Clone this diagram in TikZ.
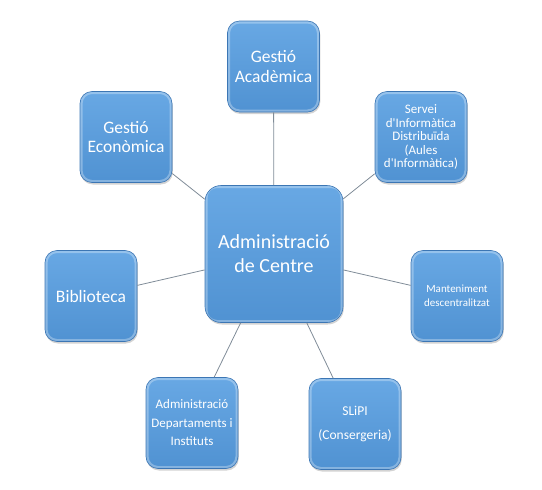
\documentclass[tikz,border=0pt]{standalone}
\usepackage{fontspec}
\setmainfont{Carlito}
\usetikzlibrary{shadows}

\definecolor{boxtop}{RGB}{104,168,228}
\definecolor{boxbottom}{RGB}{80,146,210}
\definecolor{boxedge}{RGB}{60,118,180}
\definecolor{spoke}{RGB}{128,140,152}

\begin{document}
\begin{tikzpicture}[x=1pt,y=-1pt,
    unit/.style={draw=boxedge, line width=0.6pt, top color=boxtop, bottom color=boxbottom,
        rounded corners=12pt, text=white, align=center, inner sep=2pt,
        minimum width=92pt, minimum height=91pt,
        path picture={\draw[white, opacity=0.3, line width=5pt, rounded corners=12pt]
            (path picture bounding box.south west) rectangle (path picture bounding box.north east);},
        drop shadow={shadow xshift=0.8pt, shadow yshift=-2pt, opacity=0.35}},
    hub/.style={unit, minimum width=138pt, minimum height=137pt, rounded corners=16pt},
    spokeline/.style={draw=spoke, line width=0.8pt}]
    \useasboundingbox (0,0) rectangle (542,490);

    \node[hub, font=\fontsize{20}{24}\selectfont] (centre) at (274,254) {Administració\\de Centre};

    \node[unit, font=\fontsize{17.5}{20}\selectfont] (academica) at (273.5,66.5) {Gestió\\Acadèmica};
    \node[unit, font=\fontsize{17.5}{19}\selectfont] (economica) at (126,137) {Gestió\\Econòmica};
    \node[unit, font=\fontsize{13}{13.5}\selectfont] (servei) at (421,137) {Servei\\d\textquotesingle Informàtica\\Distribuïda\\(Aules\\d\textquotesingle Informàtica)};
    \node[unit, font=\fontsize{17.5}{19}\selectfont] (biblioteca) at (91,296) {Biblioteca};
    \node[unit, font=\fontsize{11}{14}\selectfont] (manteniment) at (457,296) {Manteniment\\descentralitzat};
    \node[unit, font=\fontsize{13}{18.5}\selectfont] (departaments) at (192,423) {Administració\\Departaments i\\Instituts};
    \node[unit, font=\fontsize{13.5}{24}\selectfont] (slipi) at (355,424) {SLiPI\\(Consergeria)};

    \draw[spokeline] (centre) -- (academica);
    \draw[spokeline] (centre) -- (economica);
    \draw[spokeline] (centre) -- (servei);
    \draw[spokeline] (centre) -- (biblioteca);
    \draw[spokeline] (centre) -- (manteniment);
    \draw[spokeline] (centre) -- (departaments);
    \draw[spokeline] (centre) -- (slipi);

\end{tikzpicture}
\end{document}
